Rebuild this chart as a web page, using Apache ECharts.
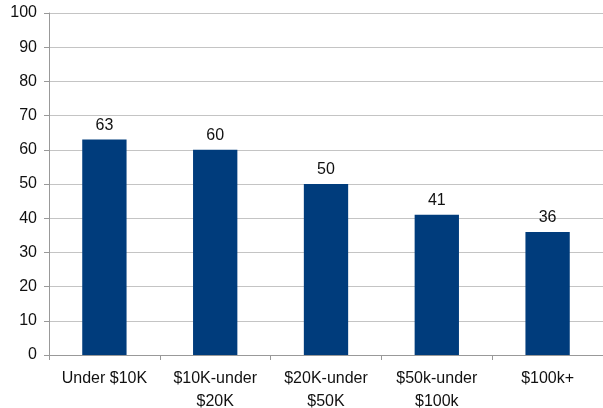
<!DOCTYPE html>
<html><head><meta charset="utf-8">
<script src="https://cdn.jsdelivr.net/npm/echarts@6/dist/echarts.min.js"></script>
<style>html,body{margin:0;padding:0;background:#fff;overflow:hidden}#c{width:603px;height:408px}</style>
</head><body><div id="c"></div>
<script>
const categories = ["Under $10K", "$10K-under\n$20K", "$20K-under\n$50K", "$50k-under\n$100k", "$100k+"];
const values = [63, 60, 50, 41, 36];
const yMin = 0, yMax = 100, yStep = 10;
const font = "'Liberation Sans', Arial, sans-serif";
const chart = echarts.init(document.getElementById('c'), null, {renderer: 'canvas'});
chart.setOption({
  animation: false,
  grid: {left: 49, right: 0, top: 13, bottom: 53, containLabel: false, outerBoundsMode: 'none'},
  xAxis: {
    type: 'category', data: categories,
    axisLine: {lineStyle: {color: '#999', width: 1}},
    axisTick: {show: true, alignWithLabel: false, length: 5, lineStyle: {color: '#999'}},
    axisLabel: {color: '#111', fontSize: 16, fontFamily: font, margin: 12, lineHeight: 23, interval: 0}
  },
  yAxis: {
    type: 'value', min: yMin, max: yMax, interval: yStep,
    axisLine: {show: true, lineStyle: {color: '#999', width: 1}},
    axisTick: {show: true, length: 5, lineStyle: {color: '#999'}},
    splitLine: {lineStyle: {color: '#c4c4c4', width: 1}},
    axisLabel: {color: '#111', fontSize: 16, fontFamily: font, margin: 12}
  },
  series: [{
    type: 'bar', data: values, barWidth: '40%',
    itemStyle: {color: '#003c7c'},
    label: {show: true, position: 'top', color: '#111', fontSize: 16, fontFamily: font, distance: 6}
  }]
});
</script></body></html>
